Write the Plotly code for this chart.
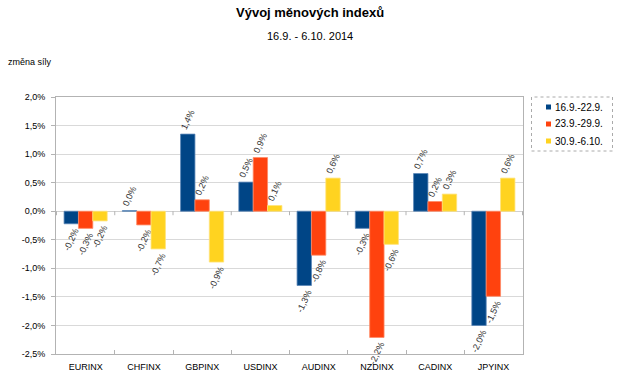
import plotly.graph_objects as go

categories = ["EURINX", "CHFINX", "GBPINX", "USDINX", "AUDINX", "NZDINX", "CADINX", "JPYINX"]
series_names = ["16.9.-22.9.", "23.9.-29.9.", "30.9.-6.10."]
s1 = [-0.22, 0.01, 1.35, 0.51, -1.30, -0.30, 0.66, -2.00]
s2 = [-0.30, -0.24, 0.20, 0.94, -0.77, -2.21, 0.17, -1.49]
s3 = [-0.17, -0.66, -0.89, 0.10, 0.58, -0.58, 0.30, 0.58]
colors = ["#004586", "#ff420e", "#ffd320"]
line_colors = ["#5a86b8", "#ff8a66", "#ffe37a"]
y_ticks = [-2.5, -2.0, -1.5, -1.0, -0.5, 0.0, 0.5, 1.0, 1.5, 2.0]


def fmt(v):
    return ("%.1f" % v).replace(".", ",") + "%"


W, H = 620, 376
l, r, t, b = 56, 4, 97, 22
plot_right = 523
pw, ph = W - l - r, H - t - b


def px(x):
    return (x - l) / pw


def py(y):
    return (H - b - y) / ph


fig = go.Figure()
for name, vals, c, lc in zip(series_names, [s1, s2, s3], colors, line_colors):
    fig.add_trace(go.Bar(
        x=categories, y=vals, name=name, showlegend=False,
        marker=dict(color=c, line=dict(color=lc, width=0.8)),
        text=[fmt(v) for v in vals],
        textposition="outside", textangle=-65, constraintext="none",
        textfont=dict(family="Liberation Sans, Arial", size=9, color="#333333"),
        cliponaxis=False,
    ))

shapes = []
for i in range(len(categories) + 1):
    shapes.append(dict(type="line", xref="x", yref="y", x0=i - 0.5, x1=i - 0.5,
                       y0=0, y1=-0.07, line=dict(color="#b3b3b3", width=1)))
# legend box (dotted) and entries
shapes.append(dict(type="rect", xref="paper", yref="paper",
                   x0=px(531.5), x1=px(612.5), y0=py(151), y1=py(97),
                   line=dict(color="#aaaaaa", width=1, dash="dot")))
annotations = [
    dict(text="<b>Vývoj měnových indexů</b>", x=px(310), y=py(12), xref="paper", yref="paper",
         xanchor="center", yanchor="middle", showarrow=False, font=dict(size=13)),
    dict(text="16.9. - 6.10. 2014", xref="paper", yref="paper", x=px(310), y=py(36),
         xanchor="center", yanchor="middle", showarrow=False, font=dict(size=11)),
    dict(text="změna síly", xref="paper", yref="paper", x=px(6), y=py(62),
         xanchor="left", yanchor="middle", showarrow=False, font=dict(size=9)),
]
for k, (name, c) in enumerate(zip(series_names, colors)):
    yc = 107 + 17 * k
    shapes.append(dict(type="rect", xref="paper", yref="paper",
                       x0=px(546), x1=px(551), y0=py(yc + 2.5), y1=py(yc - 2.5),
                       fillcolor=c, line=dict(width=0)))
    annotations.append(dict(text=name, xref="paper", yref="paper", x=px(553), y=py(yc),
                            xanchor="left", yanchor="middle", showarrow=False,
                            font=dict(size=10)))

fig.update_layout(
    width=W, height=H,
    margin=dict(l=l, r=r, t=t, b=b),
    paper_bgcolor="white", plot_bgcolor="white",
    font=dict(family="Liberation Sans, Arial", size=9, color="#000000"),
    barmode="group", bargap=0.26, bargroupgap=0,
    showlegend=False,
    shapes=shapes,
    annotations=annotations,
)

fig.update_xaxes(
    domain=[0, px(plot_right)], automargin=False,
    showline=True, linecolor="#b3b3b3", mirror=True,
    ticks="inside", tickson="boundaries", ticklen=4, tickcolor="#b3b3b3",
    showgrid=False, tickfont=dict(size=9), ticklabelstandoff=4,
)
fig.update_yaxes(
    range=[-2.5, 2.0], tickvals=y_ticks, ticktext=[fmt(v) for v in y_ticks],
    automargin=False,
    showline=True, linecolor="#b3b3b3", mirror=True,
    ticks="outside", ticklen=4, tickcolor="#b3b3b3",
    showgrid=True, gridcolor="#d9d9d9", gridwidth=1,
    zeroline=True, zerolinecolor="#d0d0d0", zerolinewidth=1,
    tickfont=dict(size=9), ticklabelstandoff=4,
)

fig.write_html("out.html", config={"displayModeBar": False},
               post_script="document.body.style.margin='0';")
